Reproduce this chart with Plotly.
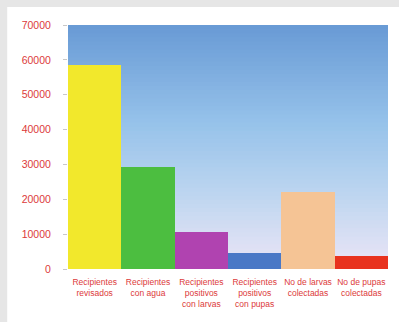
import plotly.graph_objects as go

categories = ["Recipientes<br>revisados", "Recipientes<br>con agua",
              "Recipientes<br>positivos<br>con larvas", "Recipientes<br>positivos<br>con pupas",
              "No de larvas<br>colectadas", "No de pupas<br>colectadas"]
values = [58500, 29200, 10600, 4600, 22000, 3700]
bar_colors = ["#f2e82c", "#4cbe40", "#b043b0", "#4a78c6", "#f5c495", "#e8321e"]
y_ticks = [0, 10000, 20000, 30000, 40000, 50000, 60000, 70000]

fig = go.Figure(go.Bar(x=categories, y=values, marker=dict(color=bar_colors, line=dict(width=0)),
                       width=1.0))

shapes = []
# gray frame on left and top
shapes.append(dict(type="rect", xref="paper", yref="paper", x0=-0.4, x1=-0.19, y0=-0.5, y1=1.3,
                   fillcolor="#e6e6e6", line=dict(width=0), layer="below"))
shapes.append(dict(type="rect", xref="paper", yref="paper", x0=-0.4, x1=1.3, y0=1.074, y1=1.3,
                   fillcolor="#e6e6e6", line=dict(width=0), layer="below"))
# gradient background strips (cumulative to avoid seams)
stops = [(0.0, (236, 229, 246)), (0.3, (190, 214, 240)), (0.6, (150, 194, 234)), (1.0, (104, 154, 213))]
def col(t):
    for i in range(len(stops) - 1):
        a, ca = stops[i]
        b, cb = stops[i + 1]
        if a <= t <= b:
            f = (t - a) / (b - a)
            return "rgb(%d,%d,%d)" % tuple(round(ca[k] + (cb[k] - ca[k]) * f) for k in range(3))
    return "rgb(%d,%d,%d)" % stops[-1][1]
N = 60
for i in range(N):
    t0 = i / N
    shapes.append(dict(type="rect", xref="x domain", yref="y domain", x0=0, x1=1, y0=t0, y1=1,
                       fillcolor=col(t0 + 0.5 / N), line=dict(width=0), layer="below"))

fig.update_layout(
    width=399, height=322,
    margin=dict(l=68, r=11, t=25, b=53),
    paper_bgcolor="white", plot_bgcolor="rgba(0,0,0,0)",
    shapes=shapes, bargap=0, showlegend=False,
    font=dict(family="Liberation Sans", size=8, color="#dc3a3a"),
)
fig.update_yaxes(range=[0, 70000], tickvals=y_ticks, ticktext=[str(v) for v in y_ticks],
                 showgrid=False, zeroline=False, ticks="outside", ticklen=4, tickcolor="#c8c8c8",
                 ticklabelstandoff=10,
                 tickfont=dict(family="Liberation Sans", size=10.5, color="#dc3a3a"), showline=False)
fig.update_xaxes(showgrid=False, ticks="", tickangle=0, ticklabelstandoff=6,
                 tickfont=dict(family="Liberation Sans Narrow, Liberation Sans", size=8.5, color="#dc3a3a"),
                 showline=False)

fig.write_html("out.html",
               post_script="document.documentElement.style.overflow='hidden';"
                           "document.body.style.overflow='hidden';document.body.style.margin='0';")
